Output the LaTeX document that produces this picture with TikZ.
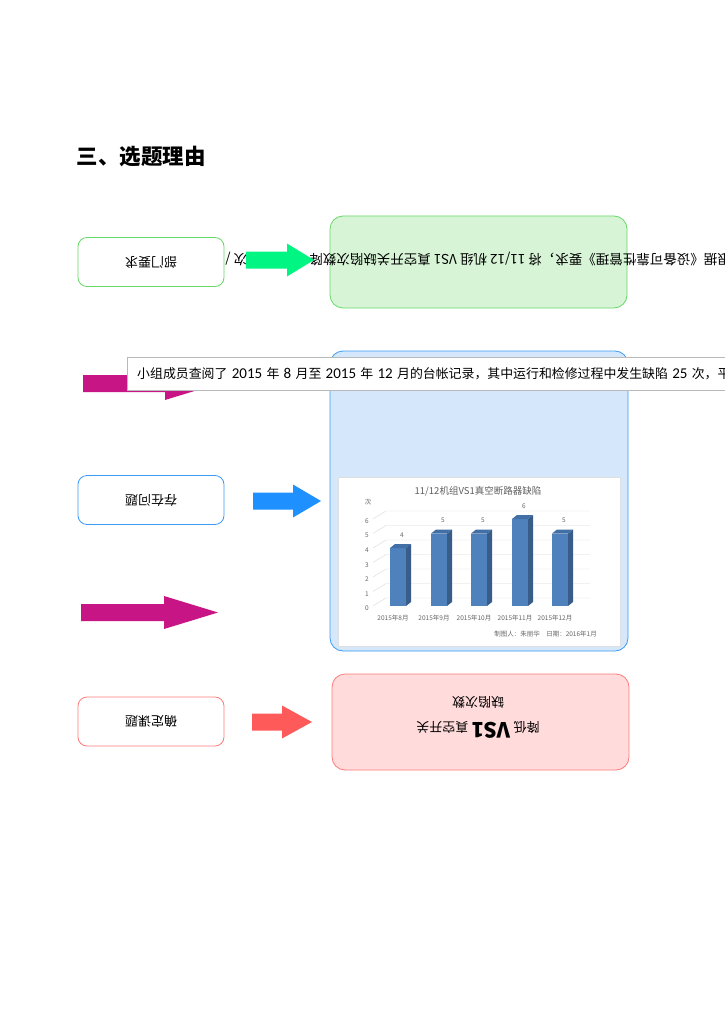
\documentclass[tikz,border=0pt]{standalone}
\usepackage{fontspec}
\setmainfont{Noto Sans CJK SC}
\newfontfamily\lat{Carlito}
\usetikzlibrary{positioning}
\definecolor{GreenLine}{HTML}{66D966}
\definecolor{GreenFill}{HTML}{D7F5D6}
\definecolor{BlueLine}{HTML}{3D9BF7}
\definecolor{BlueFill}{HTML}{D4E7FB}
\definecolor{RedLine}{HTML}{FF7A7A}
\definecolor{RedFill}{HTML}{FFDBDB}
\definecolor{ArrowGreen}{HTML}{00F582}
\definecolor{ArrowBlue}{HTML}{1E90FF}
\definecolor{ArrowRed}{HTML}{FF5A5A}
\definecolor{ArrowMagenta}{HTML}{C71585}
\definecolor{BarFront}{HTML}{4F81BD}
\definecolor{BarSide}{HTML}{385D8A}
\definecolor{BarTop}{HTML}{416FA6}
\tikzset{
    topicbox/.style={rectangle, rounded corners=9pt, fill=white, line width=0.8pt, minimum width=146pt, minimum height=49pt, font=\fontsize{13}{15}\selectfont, rotate=180},
    panel/.style={rectangle, rounded corners=13pt, line width=0.8pt},
    chartlbl/.style={font=\fontsize{6.5}{7}\selectfont, text=gray!80!black, inner sep=0pt}
}
% digits of the note in the latin face
\newcommand{\dg}[1]{{\lat\fontsize{15}{16}\selectfont #1}}
% flat block arrow: colour, left x, head base x, tip x, middle y
\newcommand{\blockarrow}[5]{%
    \fill[#1] (#2,#5-8.5) -- (#3,#5-8.5) -- (#3,#5-16.5) -- (#4,#5) -- (#3,#5+16.5) -- (#3,#5+8.5) -- (#2,#5+8.5) -- cycle;}

\begin{document}
\begin{tikzpicture}[x=1pt, y=-1pt]
    \useasboundingbox (0,0) rectangle (724,1024);
    \fill[white] (0,0) rectangle (724,1024);

    % --- TITLE ---
    \node[anchor=west, font=\fontsize{21.5}{24}\selectfont\bfseries] (title) at (73,157) {三、选题理由};

    % --- ROW 1 ---
    \node[panel, draw=GreenLine, fill=GreenFill, minimum width=297pt, minimum height=92pt] (reqpanel) at (478.5,262) {};
    \node[topicbox, draw=GreenLine] (req) at (151,262) {部门要求};
    \node[rotate=180, anchor=west, inner sep=0pt, font=\fontsize{13.5}{15}\selectfont] (reqtext) at (731,259) {根据《设备可靠性管理》要求，将 11/12 机组 VS1 真空开关缺陷次数降\hspace{4.6em}次 /};
    \blockarrow{ArrowGreen}{246}{287}{314}{260}

    % --- ROW 2 ---
    \node[panel, draw=BlueLine, fill=BlueFill, minimum width=298pt, minimum height=300pt] (issuepanel) at (479,501) {};
    \blockarrow{ArrowMagenta}{83}{165}{219}{383.5}
    \node[rectangle, draw=gray!55, fill=white, anchor=west, minimum height=33pt, minimum width=640pt, inner xsep=9pt, align=left, text width=620pt, font=\fontsize{12.9}{14}\selectfont] (note) at (127,373.5) {小组成员查阅了 \dg{2015} 年 \dg{8} 月至 \dg{2015} 年 \dg{12} 月的台帐记录，其中运行和检修过程中发生缺陷 \dg{25} 次，平};
    \node[topicbox, draw=BlueLine] (issue) at (151,500) {存在问题};
    \blockarrow{ArrowBlue}{253}{293}{321}{501}
    \blockarrow{ArrowMagenta}{81}{164}{218}{612.5}

    % --- CHART ---
    \node[rectangle, draw=gray!25, fill=white, minimum width=282pt, minimum height=169pt] (chart) at (479,561.5) {};
    \node[font=\fontsize{9.5}{10}\selectfont, text=gray!75!black] (charttitle) at (478,491) {11/12机组VS1真空断路器缺陷};
    \node[chartlbl] (unit) at (368,502) {次};
    \foreach \v in {0,...,6} {
        \node[chartlbl] (tick\v) at (367,608.5-14.6*\v) {\v};
        \draw[gray!30] (373,606-14.5*\v) -- (386,598-14.5*\v) -- (590,598-14.5*\v);
    }
    \foreach \x/\v/\m [count=\i] in {390/4/8, 431/5/9, 471/5/10, 512/6/11, 552/5/12} {
        \pgfmathsetmacro\bartop{606-14.5*\v}
        \fill[BarFront] (\x,606) rectangle (\x+16,\bartop);
        \fill[BarSide] (\x+16,606) -- (\x+21,602) -- (\x+21,\bartop-4) -- (\x+16,\bartop) -- cycle;
        \fill[BarTop] (\x,\bartop) -- (\x+5,\bartop-4) -- (\x+21,\bartop-4) -- (\x+16,\bartop) -- cycle;
        \node[chartlbl] (val\i) at (\x+12,\bartop-13) {\v};
        \node[chartlbl] (month\i) at (\x+3,618) {2015年\m{}月};
    }
    \node[chartlbl, anchor=east] (maker) at (597,634) {制图人：朱丽华\quad 日期：2016年1月};

    % --- ROW 3 ---
    \node[topicbox, draw=RedLine] (topic) at (151,721.5) {确定课题};
    \blockarrow{ArrowRed}{252}{282}{312}{722}
    \node[panel, draw=RedLine, fill=RedFill, minimum width=297pt, minimum height=96pt] (goal) at (480.5,722) {};
    \node[rotate=180, align=center, font=\fontsize{13}{25}\selectfont] (goaltext) at (478,717) {降低 {\fontsize{21}{22}\selectfont\bfseries VS1} 真空开关\\缺陷次数};

\end{tikzpicture}
\end{document}
